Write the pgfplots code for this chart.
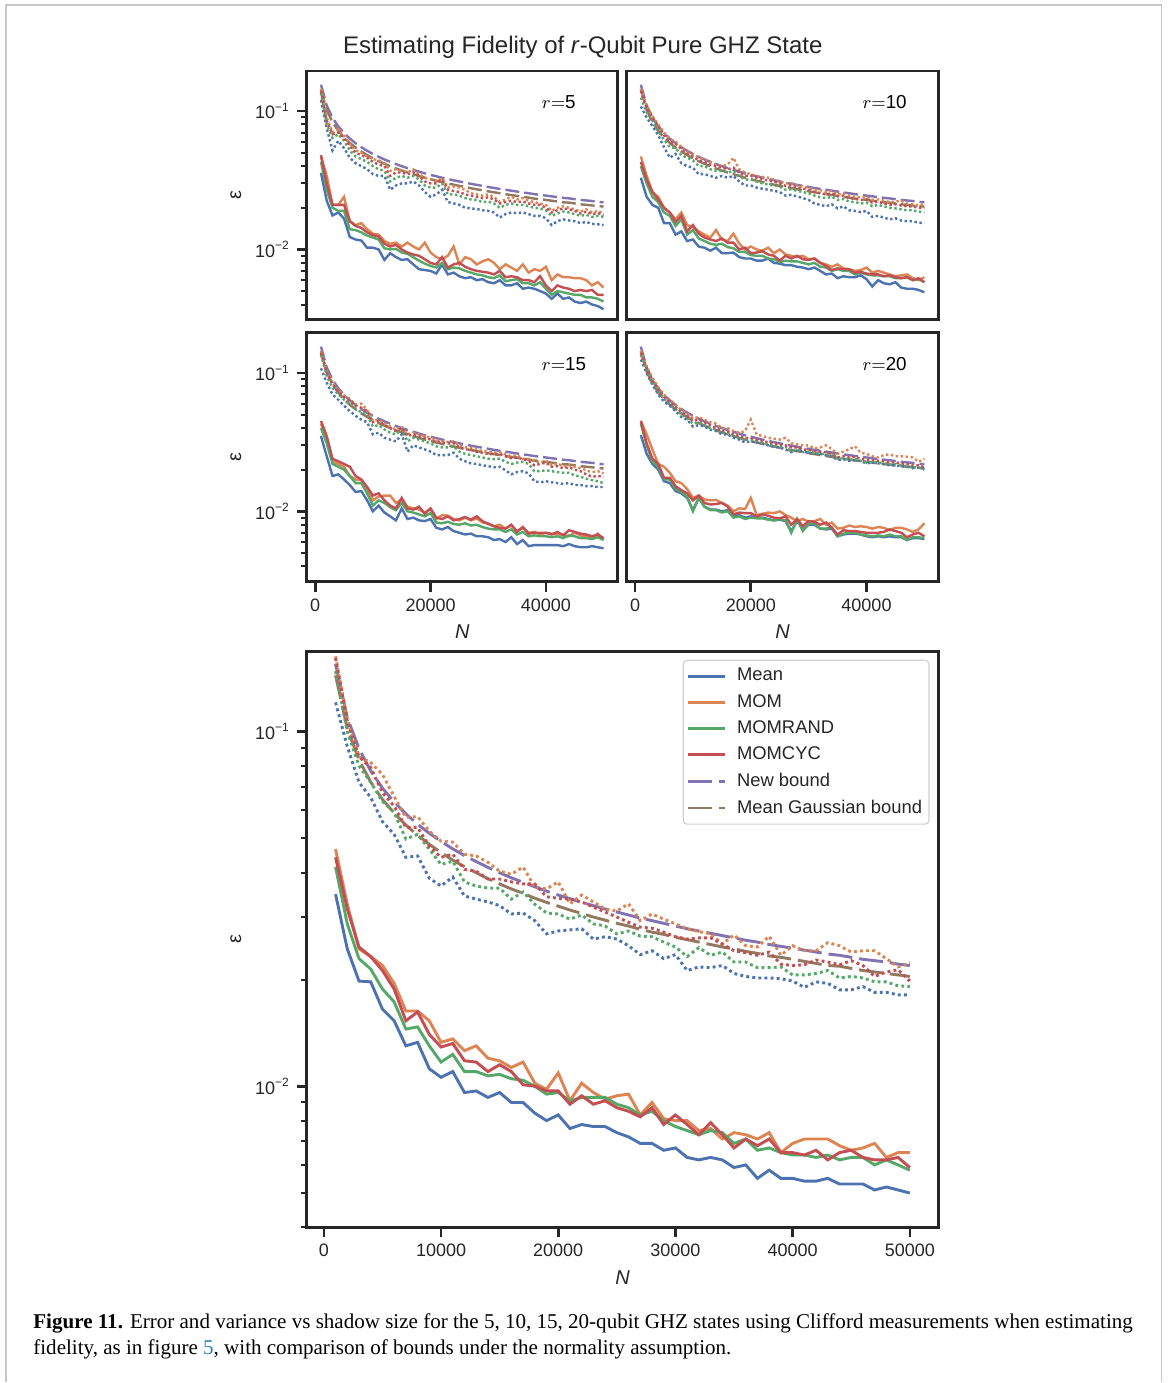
\documentclass[border=0pt]{standalone}
\usepackage{fontspec}
\setmainfont{Liberation Sans}
\newfontfamily\capfont{Liberation Serif}
\usepackage{graphicx}
\usepackage{pgfplots}
\usepackage{pgfplotstable}
\pgfplotsset{compat=1.18}

\definecolor{cblue}{RGB}{76,114,176}
\definecolor{corange}{RGB}{221,132,82}
\definecolor{cgreen}{RGB}{85,168,104}
\definecolor{cred}{RGB}{196,78,82}
\definecolor{cpurple}{RGB}{129,114,179}
\definecolor{cbrown}{RGB}{147,120,96}
\definecolor{axgray}{RGB}{38,38,38}
\definecolor{linkblue}{RGB}{38,131,198}

% columns: a=Mean b=MOM c=MOMRAND d=MOMCYC (solid), e..h the same four, dotted
\pgfplotstableread{
N a b c d e f g h nb gb
1000 .0348 .0466 .0415 .0442 .1208 .163 .148 .161 .1550 .1441
2000 .0244 .0326 .0287 .0316 .0908 .1080 .100 .1067 .1096 .1019
3000 .0198 .0244 .0229 .0247 .0719 .0849 .080 .0849 .0895 .0832
4000 .0197 .0232 .0214 .0232 .0652 .0818 .072 .0792 .0775 .0721
5000 .0165 .0219 .0188 .0212 .0558 .0757 .0636 .0673 .0693 .0644
6000 .0153 .0195 .0173 .0188 .0513 .0656 .0591 .0616 .0633 .0589
7000 .0130 .0163 .0145 .0153 .0442 .0573 .0498 .0537 .0586 .0545
8000 .0133 .0163 .0147 .0162 .0446 .0576 .0513 .0537 .0548 .0510
9000 .0112 .0153 .0130 .0140 .0386 .0524 .0466 .0475 .0517 .0481
10000 .0106 .0133 .0117 .0129 .0367 .0491 .0422 .0442 .0490 .0456
11000 .0110 .0136 .0123 .0132 .0389 .0488 .0431 .0451 .0467 .0434
12000 .0096 .0126 .0110 .0118 .0344 .0451 .0377 .0409 .0447 .0416
13000 .0097 .0130 .0110 .0117 .0337 .0446 .0367 .0404 .0430 .0400
14000 .0093 .0120 .0107 .0110 .0331 .0428 .0362 .0384 .0414 .0385
15000 .0096 .0118 .0108 .0115 .0323 .0404 .0362 .0384 .0400 .0372
16000 .0090 .0113 .0105 .0110 .0306 .0396 .0337 .0377 .0387 .0360
17000 .0090 .0117 .0104 .0101 .0308 .0415 .0353 .0372 .0376 .0350
18000 .0084 .0102 .0100 .0100 .0293 .0365 .0326 .0372 .0365 .0339
19000 .0080 .0098 .0095 .0097 .0269 .0360 .0308 .0342 .0355 .0330
20000 .0083 .0109 .0096 .0097 .0274 .0377 .0306 .0339 .0346 .0322
21000 .0076 .0091 .0091 .0089 .0276 .0327 .0296 .0337 .0338 .0314
22000 .0078 .0102 .0093 .0094 .0278 .0346 .0304 .0331 .0330 .0307
23000 .0077 .0096 .0093 .0089 .0260 .0331 .0287 .0320 .0323 .0300
24000 .0077 .0092 .0093 .0091 .0264 .0316 .0283 .0310 .0316 .0294
25000 .0074 .0094 .0089 .0087 .0260 .0312 .0269 .0300 .0310 .0288
26000 .0072 .0095 .0087 .0085 .0249 .0327 .0274 .0290 .0304 .0283
27000 .0069 .0083 .0083 .0082 .0235 .0293 .0265 .0281 .0298 .0277
28000 .0069 .0090 .0085 .0087 .0241 .0306 .0264 .0279 .0293 .0272
29000 .0066 .0081 .0080 .0078 .0229 .0296 .0255 .0272 .0288 .0268
30000 .0067 .0080 .0077 .0083 .0235 .0287 .0247 .0264 .0283 .0263
31000 .0063 .0080 .0075 .0078 .0212 .0278 .0232 .0260 .0278 .0259
32000 .0062 .0075 .0073 .0073 .0217 .0273 .0246 .0262 .0274 .0255
33000 .0063 .0076 .0075 .0079 .0216 .0269 .0234 .0262 .0270 .0251
34000 .0062 .0071 .0074 .0073 .0219 .0252 .0239 .0252 .0266 .0247
35000 .0059 .0074 .0069 .0067 .0208 .0267 .0224 .0241 .0262 .0244
36000 .0060 .0073 .0071 .0071 .0204 .0249 .0224 .0238 .0258 .0240
37000 .0055 .0071 .0066 .0068 .0202 .0247 .0216 .0234 .0255 .0237
38000 .0058 .0074 .0067 .0071 .0202 .0265 .0216 .0239 .0251 .0233
39000 .0055 .0065 .0065 .0065 .0201 .0234 .0217 .0221 .0248 .0231
40000 .0055 .0069 .0064 .0065 .0198 .0249 .0206 .0219 .0245 .0228
41000 .0054 .0071 .0064 .0064 .0190 .0241 .0206 .0220 .0242 .0225
42000 .0054 .0071 .0063 .0066 .0197 .0241 .0208 .0227 .0239 .0222
43000 .0055 .0071 .0064 .0062 .0195 .0254 .0212 .0224 .0236 .0219
44000 .0053 .0068 .0062 .0065 .0187 .0249 .0202 .0220 .0234 .0218
45000 .0053 .0066 .0063 .0066 .0187 .0239 .0204 .0226 .0231 .0215
46000 .0053 .0067 .0063 .0063 .0191 .0241 .0202 .0219 .0228 .0212
47000 .0051 .0069 .0060 .0062 .0184 .0241 .0197 .0204 .0226 .0210
48000 .0052 .0063 .0062 .0062 .0184 .0229 .0197 .0210 .0224 .0208
49000 .0051 .0065 .0060 .0063 .0181 .0217 .0192 .0213 .0221 .0206
50000 .0050 .0065 .0058 .0059 .0181 .0223 .0191 .0198 .0219 .0204
}\tzero

\pgfplotstableread{
N a b c d e f g h
1000 .0358 .047 .043 .048 .120 .145 .135 .140
2000 .0225 .034 .027 .030 .075 .090 .080 .085
3000 .0176 .021 .020 .021 .052 .070 .064 .068
4000 .0185 .021 .019 .021 .061 .074 .068 .070
5000 .0167 .024 .019 .021 .054 .066 .061 .064
6000 .0123 .016 .014 .016 .046 .058 .052 .056
7000 .0118 .015 .0138 .0148 .042 .052 .047 .050
8000 .0116 .0155 .0133 .0143 .040 .050 .045 .048
9000 .0103 .014 .0126 .0133 .038 .047 .043 .046
10000 .0103 .013 .0122 .0127 .035 .045 .040 .043
11000 .0100 .0128 .0118 .0124 .034 .044 .038 .041
12000 .0084 .0115 .0102 .0110 .034 .042 .037 .040
13000 .0094 .0110 .0100 .0105 .027 .037 .031 .034
14000 .0088 .0112 .0101 .0108 .029 .038 .033 .036
15000 .0084 .0105 .0095 .0100 .030 .037 .034 .036
16000 .0085 .0112 .0093 .0095 .030 .036 .033 .035
17000 .0078 .0105 .0088 .0092 .031 .038 .034 .036
18000 .0072 .0100 .0083 .0090 .029 .035 .032 .034
19000 .0071 .0112 .0079 .0085 .026 .033 .029 .031
20000 .0070 .0095 .0076 .0080 .024 .032 .028 .030
21000 .0067 .0088 .0074 .0078 .025 .031 .028 .030
22000 .0078 .0085 .0080 .0088 .027 .033 .030 .032
23000 .0066 .0090 .0072 .0074 .022 .028 .025 .027
24000 .0068 .0105 .0074 .0078 .0215 .0285 .025 .0265
25000 .0064 .0078 .0073 .0080 .021 .028 .0245 .026
26000 .0062 .0088 .0070 .0075 .020 .027 .0235 .025
27000 .0063 .0085 .0068 .0072 .0198 .0255 .023 .0245
28000 .0060 .0078 .0066 .0070 .0196 .025 .0228 .024
29000 .0061 .0082 .0065 .0069 .0192 .0245 .022 .0235
30000 .0058 .0085 .0063 .0068 .019 .025 .0222 .0238
31000 .0057 .0080 .0062 .0066 .0185 .024 .0215 .023
32000 .0060 .0072 .0065 .0070 .017 .022 .020 .0215
33000 .0055 .0078 .0059 .0063 .018 .023 .021 .022
34000 .0055 .0074 .0060 .0064 .0185 .024 .0215 .0225
35000 .0057 .0070 .0061 .0063 .0183 .023 .021 .022
36000 .0052 .0078 .0057 .0060 .0185 .0235 .021 .0222
37000 .0053 .0068 .0057 .0060 .018 .0225 .0205 .0215
38000 .0052 .0072 .0055 .0058 .0175 .022 .020 .021
39000 .0050 .0070 .0058 .0064 .0175 .0215 .0198 .021
40000 .0048 .0075 .0052 .0055 .0168 .021 .0192 .020
41000 .0044 .0060 .0047 .0050 .015 .019 .0175 .0185
42000 .0048 .0066 .0050 .0055 .016 .020 .0182 .0192
43000 .0044 .0063 .0049 .0053 .0165 .0205 .0188 .0198
44000 .0045 .0063 .0048 .0052 .0162 .020 .0185 .0195
45000 .0042 .0062 .0047 .0050 .016 .0195 .018 .019
46000 .0041 .0062 .0047 .0051 .0155 .0188 .0175 .0182
47000 .0042 .0060 .0045 .0050 .0158 .0195 .0178 .0188
48000 .0040 .0055 .0045 .0051 .0153 .0185 .0172 .018
49000 .0039 .0058 .0044 .0047 .0152 .019 .0175 .0183
50000 .0037 .0053 .0042 .0047 .0150 .0182 .0172 .0178
}\tfive

\pgfplotstableread{
N a b c d e f g h
1000 .033 .047 .040 .043 .108 .145 .125 .140
2000 .024 .034 .030 .032 .090 .110 .098 .105
3000 .021 .026 .024 .026 .078 .092 .085 .090
4000 .020 .024 .022 .023 .067 .080 .072 .078
5000 .0155 .020 .0185 .020 .055 .070 .062 .067
6000 .0155 .0185 .0175 .0185 .046 .063 .055 .060
7000 .0128 .0165 .0148 .0158 .049 .060 .054 .058
8000 .0135 .0185 .0165 .0175 .042 .055 .048 .053
9000 .0115 .0150 .0128 .0135 .040 .051 .046 .049
10000 .0118 .0145 .0138 .0150 .039 .049 .044 .047
11000 .0105 .0135 .0120 .0130 .035 .046 .040 .044
12000 .0103 .0128 .0115 .0122 .035 .045 .040 .043
13000 .0098 .0122 .0110 .0118 .034 .043 .038 .041
14000 .0103 .0138 .0108 .0115 .033 .041 .037 .040
15000 .0094 .0118 .0110 .0120 .034 .040 .037 .039
16000 .0094 .0115 .0104 .0112 .033 .041 .036 .038
17000 .0095 .0130 .0102 .0112 .034 .046 .037 .039
18000 .0088 .0110 .0096 .0100 .031 .038 .034 .036
19000 .0086 .0100 .0096 .0103 .029 .036 .032 .034
20000 .0086 .0105 .0091 .0094 .029 .035 .032 .034
21000 .0083 .0100 .0090 .0095 .028 .034 .031 .033
22000 .0083 .0098 .0090 .0097 .0275 .0335 .030 .032
23000 .0086 .0103 .0086 .0092 .027 .033 .0295 .0315
24000 .0080 .0094 .0085 .0090 .0265 .032 .029 .031
25000 .0079 .0100 .0081 .0083 .026 .031 .0285 .030
26000 .0077 .0092 .0083 .0090 .0245 .030 .027 .0288
27000 .0077 .0090 .0082 .0086 .0248 .0302 .0272 .029
28000 .0075 .0088 .0082 .0090 .0242 .029 .0265 .028
29000 .0074 .0090 .0080 .0085 .0235 .0285 .026 .0275
30000 .0072 .0085 .0078 .0084 .0228 .028 .0255 .027
31000 .0074 .0086 .0080 .0086 .0215 .027 .0245 .026
32000 .0070 .0080 .0075 .0080 .021 .0268 .0238 .0255
33000 .0066 .0078 .0074 .0076 .0205 .026 .0235 .025
34000 .0067 .0075 .0070 .0071 .0212 .0265 .024 .0255
35000 .0062 .0078 .0072 .0073 .0198 .025 .0228 .0242
36000 .0064 .0073 .0070 .0072 .0205 .0255 .0232 .0245
37000 .0063 .0072 .0070 .0072 .0192 .0245 .0222 .0235
38000 .0063 .0070 .0066 .0068 .019 .024 .022 .0232
39000 .0065 .0071 .0068 .0069 .0186 .0238 .0215 .0228
40000 .0061 .0074 .0066 .0067 .019 .024 .0218 .023
41000 .0054 .0068 .0065 .0066 .0172 .0228 .0205 .0218
42000 .0060 .0070 .0065 .0066 .0175 .023 .021 .0222
43000 .0057 .0068 .0064 .0064 .0170 .0225 .0205 .0215
44000 .0056 .0066 .0064 .0065 .0165 .022 .020 .021
45000 .0058 .0064 .0062 .0063 .0168 .0222 .0198 .0212
46000 .0053 .0065 .0062 .0062 .0162 .0225 .0195 .0208
47000 .0052 .0066 .0063 .0063 .0160 .0215 .0192 .0205
48000 .0052 .0062 .0060 .0060 .0160 .0212 .0192 .0205
49000 .0051 .0060 .0061 .0062 .0156 .0208 .0188 .020
50000 .0049 .0063 .0058 .0058 .0155 .0212 .0185 .0198
}\tten

\pgfplotstableread{
N a b c d e f g h
1000 .035 .043 .040 .045 .108 .143 .135 .140
2000 .025 .034 .031 .035 .085 .103 .095 .100
3000 .018 .023 .022 .024 .070 .085 .078 .083
4000 .0185 .022 .021 .023 .064 .075 .070 .073
5000 .017 .021 .020 .022 .058 .069 .064 .067
6000 .0155 .018 .018 .021 .053 .065 .060 .063
7000 .0138 .017 .016 .018 .049 .059 .055 .058
8000 .0140 .0168 .016 .017 .046 .060 .052 .056
9000 .0120 .0145 .0135 .015 .044 .054 .050 .053
10000 .0100 .0120 .0110 .0130 .036 .045 .041 .044
11000 .0110 .0128 .0120 .0135 .037 .046 .042 .045
12000 .0098 .0130 .0115 .0120 .034 .043 .039 .042
13000 .0092 .0130 .0107 .0110 .033 .041 .037 .040
14000 .0086 .0115 .0102 .0105 .032 .039 .036 .038
15000 .0105 .0122 .0115 .0125 .036 .041 .039 .040
16000 .0088 .0108 .0100 .0105 .027 .036 .032 .035
17000 .0090 .0105 .0098 .0103 .030 .037 .034 .036
18000 .0086 .0103 .0095 .0108 .029 .036 .033 .035
19000 .0085 .0098 .0092 .0096 .028 .035 .032 .034
20000 .0088 .0104 .0097 .0105 .027 .034 .031 .033
21000 .0076 .0088 .0083 .0090 .0255 .033 .0295 .032
22000 .0074 .0094 .0082 .0088 .0255 .032 .029 .0315
23000 .0077 .0093 .0084 .0092 .0255 .0318 .029 .031
24000 .0072 .0088 .0081 .0086 .0265 .032 .0295 .031
25000 .0070 .0086 .0080 .0088 .024 .030 .027 .029
26000 .0068 .0090 .0082 .0091 .023 .029 .026 .028
27000 .0069 .0086 .0079 .0087 .0222 .0288 .0255 .028
28000 .0066 .0089 .0080 .0092 .022 .028 .025 .027
29000 .0066 .0083 .0077 .0085 .0215 .0272 .0245 .0265
30000 .0065 .0082 .0075 .0081 .0212 .027 .024 .026
31000 .0062 .0078 .0074 .0078 .0208 .0265 .0238 .0258
32000 .0063 .0080 .0074 .0076 .021 .0268 .024 .026
33000 .0060 .0075 .0071 .0075 .0198 .0258 .0228 .025
34000 .0065 .0079 .0074 .0080 .0185 .025 .022 .0242
35000 .0058 .0072 .0068 .0071 .0192 .0255 .0225 .0245
36000 .0062 .0076 .0071 .0077 .0195 .024 .0228 .0238
37000 .0056 .0070 .0066 .0069 .0188 .024 .022 .0232
38000 .0057 .0071 .0067 .0070 .0165 .023 .0195 .0215
39000 .0057 .0068 .0066 .0070 .0162 .0225 .0195 .022
40000 .0057 .0070 .0066 .0070 .0165 .0232 .0198 .0225
41000 .0057 .0069 .0065 .0068 .0162 .0215 .0195 .021
42000 .0057 .0068 .0066 .0071 .016 .0222 .0192 .0212
43000 .0056 .0068 .0064 .0067 .0158 .0212 .019 .0205
44000 .0058 .0066 .0067 .0073 .016 .0215 .019 .0208
45000 .0056 .0070 .0066 .0071 .0155 .021 .0182 .020
46000 .0055 .0067 .0064 .0069 .0155 .0205 .0178 .0195
47000 .0055 .0066 .0064 .0068 .0152 .0198 .0172 .0185
48000 .0056 .0064 .0063 .0066 .0152 .0192 .0168 .0178
49000 .0055 .0069 .0065 .0068 .0150 .0195 .0165 .018
50000 .0054 .0062 .0062 .0064 .0150 .0188 .0160 .0178
}\tfifteen

\pgfplotstableread{
N a b c d e f g h
1000 .0355 .045 .043 .045 .125 .145 .135 .140
2000 .026 .036 .030 .031 .100 .112 .105 .108
3000 .022 .028 .023 .024 .082 .092 .085 .088
4000 .020 .022 .021 .022 .070 .079 .074 .076
5000 .0165 .021 .017 .0175 .062 .070 .065 .067
6000 .016 .019 .017 .0175 .058 .064 .060 .062
7000 .014 .0165 .0145 .0152 .053 .059 .055 .057
8000 .0135 .016 .0138 .0142 .048 .054 .050 .052
9000 .0125 .0145 .0128 .0135 .046 .051 .047 .049
10000 .0102 .0125 .0100 .0120 .041 .047 .043 .045
11000 .0125 .0130 .0125 .0130 .042 .048 .044 .046
12000 .0108 .0122 .0108 .0115 .041 .046 .042 .044
13000 .0103 .0120 .0102 .0112 .039 .044 .040 .042
14000 .0103 .0121 .0102 .0113 .038 .043 .039 .040
15000 .0100 .0115 .0098 .0115 .036 .040 .037 .038
16000 .0102 .0110 .0100 .0108 .036 .040 .037 .038
17000 .0092 .0100 .0090 .0095 .034 .038 .035 .036
18000 .0094 .0105 .0092 .0098 .033 .037 .034 .035
19000 .0090 .0104 .0088 .0097 .0315 .038 .033 .034
20000 .0092 .0125 .0090 .0097 .032 .046 .033 .034
21000 .0090 .0094 .0089 .0092 .0315 .036 .0322 .033
22000 .0090 .0096 .0089 .0095 .031 .035 .0315 .0325
23000 .0088 .0098 .0087 .0093 .030 .034 .0305 .0315
24000 .0086 .0097 .0086 .0090 .0292 .0335 .030 .031
25000 .0087 .0100 .0088 .0089 .029 .033 .0295 .0305
26000 .0085 .0094 .0086 .0092 .028 .034 .0292 .030
27000 .0072 .0090 .0070 .0080 .0268 .031 .027 .029
28000 .0085 .0085 .0088 .0088 .0275 .0305 .0282 .029
29000 .0074 .0088 .0072 .0078 .027 .030 .0268 .028
30000 .0080 .0084 .0081 .0085 .0265 .030 .027 .0278
31000 .0080 .0085 .0082 .0084 .0262 .0285 .0265 .0272
32000 .0075 .0088 .0075 .0080 .026 .029 .026 .027
33000 .0074 .0080 .0075 .0083 .0255 .030 .026 .0268
34000 .0075 .0083 .0077 .0076 .025 .0282 .0255 .026
35000 .0066 .0075 .0066 .0068 .0235 .026 .024 .0245
36000 .0068 .0076 .0069 .0073 .0238 .027 .0242 .025
37000 .0069 .0079 .0070 .0072 .0232 .028 .0235 .0245
38000 .0069 .0077 .0070 .0072 .0235 .0295 .024 .0248
39000 .0068 .0078 .0068 .0071 .023 .0265 .0232 .024
40000 .0066 .0077 .0067 .0070 .0222 .026 .0225 .0235
41000 .0065 .0075 .0066 .0070 .0225 .025 .0228 .0235
42000 .0066 .0077 .0067 .0070 .0222 .0245 .0225 .0232
43000 .0065 .0076 .0066 .0071 .022 .0255 .0222 .023
44000 .0066 .0073 .0068 .0074 .0215 .0258 .0218 .0226
45000 .0065 .0076 .0066 .0072 .0215 .025 .022 .0226
46000 .0065 .0076 .0066 .0070 .0212 .025 .0215 .0222
47000 .0062 .0074 .0062 .0065 .021 .0248 .0212 .022
48000 .0064 .0071 .0065 .0068 .0205 .0245 .0208 .0215
49000 .0064 .0074 .0065 .0070 .0207 .0228 .0208 .0215
50000 .0063 .0082 .0064 .0066 .0203 .0240 .0200 .0208
}\ttwenty

\pgfplotsset{every axis/.append style={
    scale only axis, xmin=-1450, xmax=52450,
    axis line style={line width=1.4pt, draw=axgray},
    tick align=outside, tick pos=left,
    major tick length=5pt, minor tick length=3pt,
    every major tick/.append style={line width=1.3pt, draw=axgray},
    every minor tick/.append style={line width=1pt, draw=axgray},
    scaled x ticks=false,
    every tick label/.append style={font=\fontsize{9}{10}\selectfont, text=axgray},
    every axis label/.append style={font=\fontsize{10}{12}\selectfont, text=axgray}}}

% #1 table, #2 line width, #3 dash length, #4 dash gap, #5 dot length, #6 dot gap
\newcommand{\allplots}[6]{%
  \addplot[cblue,line width=#2] table[x=N,y=a]{#1};
  \addplot[corange,line width=#2] table[x=N,y=b]{#1};
  \addplot[cgreen,line width=#2] table[x=N,y=c]{#1};
  \addplot[cred,line width=#2] table[x=N,y=d]{#1};
  \addplot[cpurple,line width=#2,dash pattern=on #3 off #4] table[x=N,y=nb]{\tzero};
  \addplot[cbrown,line width=#2,dash pattern=on #3 off #4] table[x=N,y=gb]{\tzero};
  \addplot[cblue,line width=#2,dash pattern=on #5 off #6,forget plot] table[x=N,y=e]{#1};
  \addplot[corange,line width=#2,dash pattern=on #5 off #6,forget plot] table[x=N,y=f]{#1};
  \addplot[cgreen,line width=#2,dash pattern=on #5 off #6,forget plot] table[x=N,y=g]{#1};
  \addplot[cred,line width=#2,dash pattern=on #5 off #6,forget plot] table[x=N,y=h]{#1};
}

\newcommand{\rlab}[1]{\node[anchor=west, inner sep=0pt, font=\fontsize{9.4}{11}\selectfont, text=black] at (rel axis cs:0.755,0.875) {$r{=}$#1};}

\begin{document}
\begin{tikzpicture}
\path[fill=white] (0,0) rectangle (584pt,691.5pt);
\draw[black!22, line width=0.7pt] (3pt,0) -- (3pt,689pt) -- (581pt,689pt) -- (581pt,0);
\node[font=\fontsize{12}{14}\selectfont, text=axgray] at (291.5pt,668pt)
  {Estimating Fidelity of \textit{r}-Qubit Pure GHZ State};

\begin{axis}[at={(153.5pt,531.5pt)}, anchor=south west,
  width=155.5pt, height=124.5pt, ymode=log, ymin=0.0031, ymax=0.195,
  xtick=\empty, ytick={0.01,0.1},
  yticklabels={10\textsuperscript{−2},10\textsuperscript{−1}},
  minor ytick={0.003,0.004,0.005,0.006,0.007,0.008,0.009,0.02,0.03,0.04,0.05,0.06,0.07,0.08,0.09},
  ylabel={ε}]
\allplots{\tfive}{1.2pt}{7pt}{2.5pt}{1.2pt}{1.3pt}
\rlab{5}
\end{axis}

\begin{axis}[at={(313.5pt,531.5pt)}, anchor=south west,
  width=156pt, height=124.5pt, ymode=log, ymin=0.0031, ymax=0.195,
  xtick=\empty, ytick=\empty]
\allplots{\tten}{1.2pt}{7pt}{2.5pt}{1.2pt}{1.3pt}
\rlab{10}
\end{axis}

\begin{axis}[at={(153.5pt,400.5pt)}, anchor=south west,
  width=155.5pt, height=124.5pt, ymode=log, ymin=0.0031, ymax=0.195,
  xtick={0,20000,40000}, xticklabels={0,20000,40000}, xlabel={\itshape N},
  ytick={0.01,0.1},
  yticklabels={10\textsuperscript{−2},10\textsuperscript{−1}},
  minor ytick={0.003,0.004,0.005,0.006,0.007,0.008,0.009,0.02,0.03,0.04,0.05,0.06,0.07,0.08,0.09},
  ylabel={ε}]
\allplots{\tfifteen}{1.2pt}{7pt}{2.5pt}{1.2pt}{1.3pt}
\rlab{15}
\end{axis}

\begin{axis}[at={(313.5pt,400.5pt)}, anchor=south west,
  width=156pt, height=124.5pt, ymode=log, ymin=0.0031, ymax=0.195,
  xtick={0,20000,40000}, xticklabels={0,20000,40000}, xlabel={\itshape N},
  ytick=\empty]
\allplots{\ttwenty}{1.2pt}{7pt}{2.5pt}{1.2pt}{1.3pt}
\rlab{20}
\end{axis}

\begin{axis}[at={(153.5pt,77.5pt)}, anchor=south west,
  width=316pt, height=288pt, ymode=log, ymin=0.0040, ymax=0.168,
  xtick={0,10000,20000,30000,40000,50000},
  xticklabels={0,10000,20000,30000,40000,50000},
  ytick={0.01,0.1},
  yticklabels={10\textsuperscript{−2},10\textsuperscript{−1}},
  minor ytick={0.004,0.005,0.006,0.007,0.008,0.009,0.02,0.03,0.04,0.05,0.06,0.07,0.08,0.09},
  xlabel={\itshape N}, ylabel={ε},
  legend cell align=left,
  legend image code/.code={\draw[#1] (0pt,0pt) -- (18.5pt,0pt);},
  legend style={at={(0.986,0.986)}, anchor=north east, draw=black!18,
    line width=0.6pt, rounded corners=2pt, fill=white,
    font=\fontsize{9.2}{11}\selectfont, text=axgray,
    row sep=1.2pt, column sep=3.5pt, inner xsep=1.5pt, inner ysep=2pt}]
\allplots{\tzero}{1.45pt}{12pt}{3.5pt}{1.45pt}{1.6pt}
\legend{Mean,MOM,MOMRAND,MOMCYC,New bound,Mean Gaussian bound}
\end{axis}

\node[anchor=base west, inner sep=0pt] at (16.5pt,27pt) {\resizebox{550pt}{!}{%
  \capfont\fontsize{10}{12.5}\selectfont
  \begin{tabular}[t]{@{}l@{}}
  \textbf{Figure 11.} Error and variance vs shadow size for the 5, 10, 15, 20-qubit GHZ states using Clifford measurements when estimating\\
  fidelity, as in figure \textcolor{linkblue}{5}, with comparison of bounds under the normality assumption.
  \end{tabular}}};
\end{tikzpicture}
\end{document}
